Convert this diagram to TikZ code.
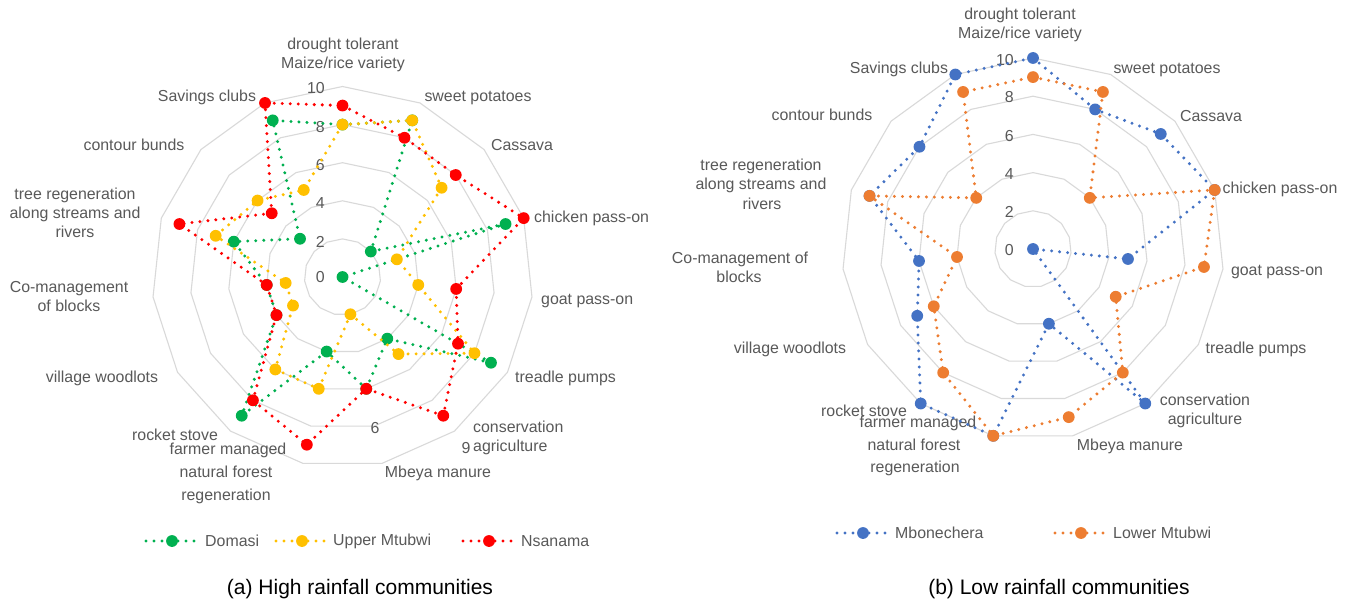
\documentclass[tikz,border=0pt]{standalone}
\usepackage{fontspec}
\setmainfont{Liberation Sans}
\definecolor{gridgray}{HTML}{D9D9D9}
\definecolor{txtgray}{HTML}{595959}
\definecolor{sgreen}{HTML}{00B050}
\definecolor{syellow}{HTML}{FFC000}
\definecolor{sred}{HTML}{FF0000}
\definecolor{sblue}{HTML}{4472C4}
\definecolor{sorange}{HTML}{ED7D31}
\newcommand\drawradarseries[6]{%
  \foreach \v [count=\k from 0] in {#6}{\coordinate (#1\k) at ({#3+\v*#5*sin(24*\k)},{#4-\v*#5*cos(24*\k)});}
  \draw[dotln,#2] (#10) \foreach \k in {1,...,14}{ -- (#1\k)} -- cycle;
  \foreach \k in {0,...,14}{\fill[#2] (#1\k) circle[radius=5.9pt];}
}
\newcommand\drawradargrid[3]{%
  \foreach \r in {2,4,6,8,10}{\draw[gridln] plot[samples at={0,24,...,336}] ({#1+\r*#3*sin(\x)},{#2-\r*#3*cos(\x)}) -- cycle;}
}
\begin{document}
\begin{tikzpicture}[x=1pt,y=-1pt,
  lbl/.style={text=txtgray, font=\fontsize{15.9}{19}\selectfont, inner sep=0pt, anchor=base},
  lblw/.style={lbl, anchor=base west},
  tick/.style={text=txtgray, font=\fontsize{15.9}{19}\selectfont, inner sep=0pt, anchor=east},
  captext/.style={text=black, font=\fontsize{21}{25}\selectfont, inner sep=0pt},
  gridln/.style={draw=gridgray, line width=1.1pt},
  dotln/.style={line width=3.3pt, line cap=round, dash pattern=on 0pt off 8pt}]
\useasboundingbox[fill=white] (0,0) rectangle (1349,604);

% ---------------- left chart ----------------
\drawradargrid{342.5}{277}{19.05}
\node[tick] (lt10) at (325,88) {10};
\node[tick] (lt8) at (325,127) {8};
\node[tick] (lt6) at (325,165) {6};
\node[tick] (lt4) at (325,203) {4};
\node[tick] (lt2) at (325,242) {2};
\node[tick] (lt0) at (325,277) {0};
\node[tick, anchor=center] (ls6) at (375,428) {6};
\node[tick, anchor=center] (ls9) at (466,448) {9};

\node[lbl] (la1) at (343,49.5) {drought tolerant};
\node[lbl] (la2) at (343,68.5) {Maize/rice variety};
\node[lbl] (lb) at (478,101.5) {sweet potatoes};
\node[lbl] (lc) at (522,150.5) {Cassava};
\node[lblw] (ld) at (534,222.5) {chicken pass-on};
\node[lblw] (le) at (541,304.5) {goat pass-on};
\node[lblw] (lf) at (515,382.5) {treadle pumps};
\node[lblw] (lg1) at (473,432.5) {conservation};
\node[lblw] (lg2) at (473,451.5) {agriculture};
\node[lbl] (lh) at (438,477.5) {Mbeya manure};
\node[lbl] (li1) at (228,454.5) {farmer managed};
\node[lbl] (li2) at (226,477.5) {natural forest};
\node[lbl] (li3) at (226,500.5) {regeneration};
\node[lbl] (lj) at (175,440.5) {rocket stove};
\node[lbl] (lk) at (102,382.5) {village woodlots};
\node[lbl] (ll1) at (69,292.5) {Co-management};
\node[lbl] (ll2) at (69,311.5) {of blocks};
\node[lbl] (lm1) at (75,199.5) {tree regeneration};
\node[lbl] (lm2) at (75,218.5) {along streams and};
\node[lbl] (lm3) at (75,237.5) {rivers};
\node[lbl] (ln) at (134,150.5) {contour bunds};
\node[lbl] (lo) at (207,101.5) {Savings clubs};

\drawradarseries{Lg}{sgreen}{342.5}{277}{19.05}{8,9,2,9,0,9,4,6,4,9,4,4,6,3,9}
\drawradarseries{Ly}{syellow}{342.5}{277}{19.05}{8,9,7,3,4,8,5,2,6,6,3,3,7,6,5}
\drawradarseries{Lr}{sred}{342.5}{277}{19.05}{9,8,8,10,6,7,9,6,9,8,4,4,9,5,10}

% legend left
\coordinate (lgA) at (146,541); \coordinate (lgM) at (172,541); \coordinate (lgB) at (198,541);
\draw[dotln,sgreen] (lgA) -- (lgB); \fill[sgreen] (lgM) circle[radius=5.9pt];
\node[lbl, anchor=west] (lgT) at (205,541) {Domasi};
\coordinate (lyA) at (276,541); \coordinate (lyM) at (302,541); \coordinate (lyB) at (328,541);
\draw[dotln,syellow] (lyA) -- (lyB); \fill[syellow] (lyM) circle[radius=5.9pt];
\node[lbl, anchor=west] (lyT) at (333,541) {Upper Mtubwi};
\coordinate (lrA) at (463,541); \coordinate (lrM) at (489,541); \coordinate (lrB) at (515,541);
\draw[dotln,sred] (lrA) -- (lrB); \fill[sred] (lrM) circle[radius=5.9pt];
\node[lbl, anchor=west] (lrT) at (521,541) {Nsanama};

\node[captext] (capa) at (360,589) {(a) High rainfall communities};

% ---------------- right chart ----------------
\drawradargrid{1033}{249}{19.1}
\node[tick] (rt10) at (1014,60) {10};
\node[tick] (rt8) at (1014,97) {8};
\node[tick] (rt6) at (1014,136) {6};
\node[tick] (rt4) at (1014,174) {4};
\node[tick] (rt2) at (1014,212) {2};
\node[tick] (rt0) at (1014,250) {0};

\node[lbl] (ra1) at (1020,19.5) {drought tolerant};
\node[lbl] (ra2) at (1020,38.5) {Maize/rice variety};
\node[lbl] (rb) at (1167,73.5) {sweet potatoes};
\node[lbl] (rc) at (1211,121.5) {Cassava};
\node[lbl] (rd) at (1280,193.5) {chicken pass-on};
\node[lbl] (re) at (1277,275.5) {goat pass-on};
\node[lbl] (rf) at (1256,353.5) {treadle pumps};
\node[lbl] (rg1) at (1205,405.5) {conservation};
\node[lbl] (rg2) at (1205,424.5) {agriculture};
\node[lbl] (rh) at (1130,450.5) {Mbeya manure};
\node[lbl] (ri1) at (918,427.5) {farmer managed};
\node[lbl] (ri2) at (914,450.5) {natural forest};
\node[lbl] (ri3) at (915,472.5) {regeneration};
\node[lbl] (rj) at (864,416.5) {rocket stove};
\node[lbl] (rk) at (790,353.5) {village woodlots};
\node[lbl] (rl1) at (740,263.5) {Co-management of};
\node[lbl] (rl2) at (739,282.5) {blocks};
\node[lbl] (rm1) at (761,170.5) {tree regeneration};
\node[lbl] (rm2) at (761,189.5) {along streams and};
\node[lbl] (rm3) at (762,209.5) {rivers};
\node[lbl] (rn) at (822,120.5) {contour bunds};
\node[lbl] (ro) at (899,73.5) {Savings clubs};

\drawradarseries{Rb}{sblue}{1033}{249}{19.1}{10,8,9,10,5,0,10,4,10,10,7,6,9,8,10}
\drawradarseries{Ro}{sorange}{1033}{249}{19.1}{9,9,4,10,9,5,8,9,10,8,6,4,9,4,9}

% legend right
\coordinate (rbA) at (837,533); \coordinate (rbM) at (863,533); \coordinate (rbB) at (889,533);
\draw[dotln,sblue] (rbA) -- (rbB); \fill[sblue] (rbM) circle[radius=5.9pt];
\node[lbl, anchor=west] (rbT) at (895,533) {Mbonechera};
\coordinate (roA) at (1055,533); \coordinate (roM) at (1081,533); \coordinate (roB) at (1107,533);
\draw[dotln,sorange] (roA) -- (roB); \fill[sorange] (roM) circle[radius=5.9pt];
\node[lbl, anchor=west] (roT) at (1113,533) {Lower Mtubwi};

\node[captext] (capb) at (1059,589) {(b) Low rainfall communities};
\end{tikzpicture}
\end{document}
